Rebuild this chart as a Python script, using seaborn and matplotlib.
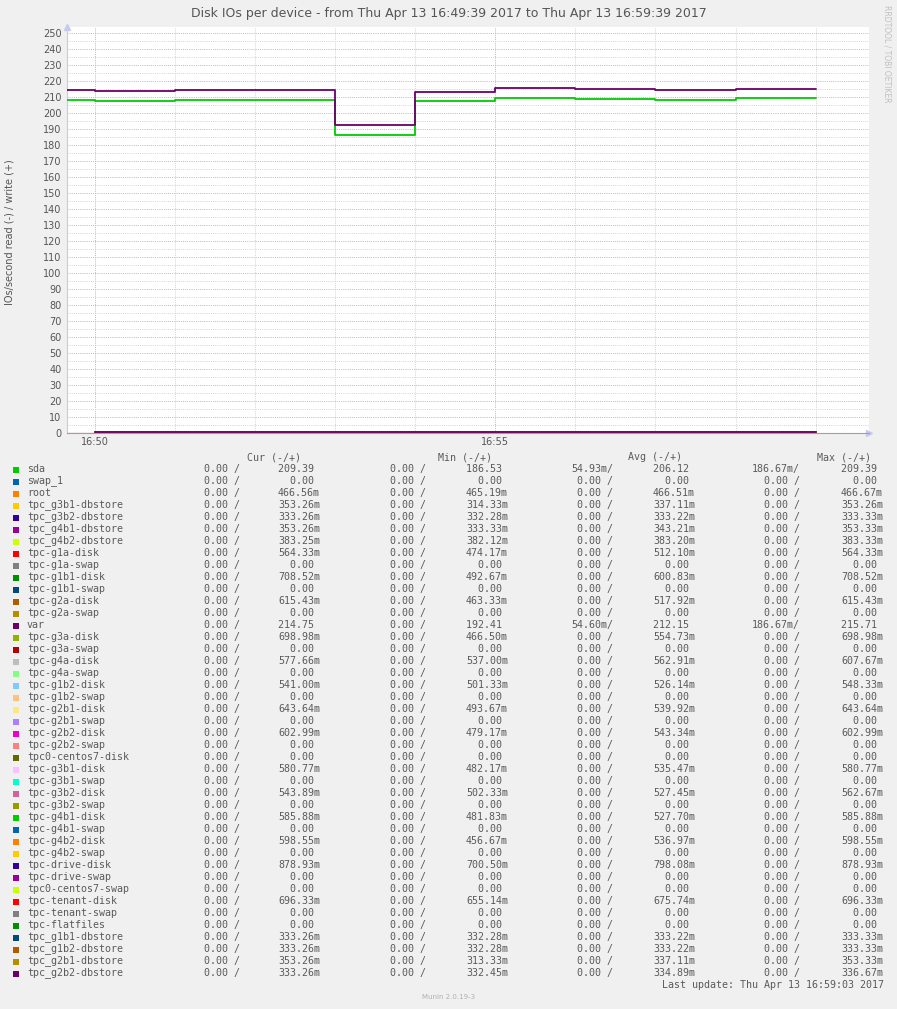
import numpy as np
import pandas as pd
import matplotlib
matplotlib.use("Agg")
import matplotlib.pyplot as plt
import matplotlib.dates as mdates
from matplotlib.patches import Rectangle
from matplotlib.ticker import MultipleLocator
import seaborn as sns

W, H = 897, 1009

title = "Disk IOs per device - from Thu Apr 13 16:49:39 2017 to Thu Apr 13 16:59:39 2017"
ylabel = "IOs/second read (-) / write (+)"

# sample start times (each value holds until the next time)
sample_times = ["16:49:39", "16:50:00", "16:51:00", "16:52:00", "16:53:00",
                "16:54:00", "16:55:00", "16:56:00", "16:57:00", "16:58:00", "16:59:00"]
sda_write = [208.0, 207.4, 208.0, 208.0, 186.53, 207.4, 209.1, 208.6, 207.9, 209.39]
var_write = [214.2, 213.5, 214.2, 214.2, 192.41, 212.9, 215.71, 214.8, 214.2, 214.75]

devices = ["sda", "swap_1", "root", "tpc_g3b1-dbstore", "tpc_g3b2-dbstore",
           "tpc_g4b1-dbstore", "tpc_g4b2-dbstore", "tpc-g1a-disk", "tpc-g1a-swap",
           "tpc-g1b1-disk", "tpc-g1b1-swap", "tpc-g2a-disk", "tpc-g2a-swap", "var",
           "tpc-g3a-disk", "tpc-g3a-swap", "tpc-g4a-disk", "tpc-g4a-swap",
           "tpc-g1b2-disk", "tpc-g1b2-swap", "tpc-g2b1-disk", "tpc-g2b1-swap",
           "tpc-g2b2-disk", "tpc-g2b2-swap", "tpc0-centos7-disk", "tpc-g3b1-disk",
           "tpc-g3b1-swap", "tpc-g3b2-disk", "tpc-g3b2-swap", "tpc-g4b1-disk",
           "tpc-g4b1-swap", "tpc-g4b2-disk", "tpc-g4b2-swap", "tpc-drive-disk",
           "tpc-drive-swap", "tpc0-centos7-swap", "tpc-tenant-disk", "tpc-tenant-swap",
           "tpc-flatfiles", "tpc_g1b1-dbstore", "tpc_g1b2-dbstore", "tpc_g2b1-dbstore",
           "tpc_g2b2-dbstore"]

colors = ["#00CC00", "#0066B3", "#FF8000", "#FFCC00", "#330099", "#990099", "#CCFF00",
          "#FF0000", "#808080", "#008F00", "#00487D", "#B35A00", "#B38F00", "#6B006B",
          "#8FB300", "#B30000", "#BEBEBE", "#80FF80", "#80C9FF", "#FFC080", "#FFE680",
          "#AA80FF", "#EE00CC", "#FF8080", "#666600", "#FFBFFF", "#00FFCC", "#CC6699",
          "#999900", "#00CC00", "#0066B3", "#FF8000", "#FFCC00", "#330099", "#990099",
          "#CCFF00", "#FF0000", "#808080", "#008F00", "#00487D", "#B35A00", "#B38F00",
          "#6B006B"]

write_cur = ["209.39", "0.00", "466.56m", "353.26m", "333.26m", "353.26m", "383.25m",
             "564.33m", "0.00", "708.52m", "0.00", "615.43m", "0.00", "214.75",
             "698.98m", "0.00", "577.66m", "0.00", "541.00m", "0.00", "643.64m", "0.00",
             "602.99m", "0.00", "0.00", "580.77m", "0.00", "543.89m", "0.00", "585.88m",
             "0.00", "598.55m", "0.00", "878.93m", "0.00", "0.00", "696.33m", "0.00",
             "0.00", "333.26m", "333.26m", "353.26m", "333.26m"]
write_min = ["186.53", "0.00", "465.19m", "314.33m", "332.28m", "333.33m", "382.12m",
             "474.17m", "0.00", "492.67m", "0.00", "463.33m", "0.00", "192.41",
             "466.50m", "0.00", "537.00m", "0.00", "501.33m", "0.00", "493.67m", "0.00",
             "479.17m", "0.00", "0.00", "482.17m", "0.00", "502.33m", "0.00", "481.83m",
             "0.00", "456.67m", "0.00", "700.50m", "0.00", "0.00", "655.14m", "0.00",
             "0.00", "332.28m", "332.28m", "313.33m", "332.45m"]
write_avg = ["206.12", "0.00", "466.51m", "337.11m", "333.22m", "343.21m", "383.20m",
             "512.10m", "0.00", "600.83m", "0.00", "517.92m", "0.00", "212.15",
             "554.73m", "0.00", "562.91m", "0.00", "526.14m", "0.00", "539.92m", "0.00",
             "543.34m", "0.00", "0.00", "535.47m", "0.00", "527.45m", "0.00", "527.70m",
             "0.00", "536.97m", "0.00", "798.08m", "0.00", "0.00", "675.74m", "0.00",
             "0.00", "333.22m", "333.22m", "337.11m", "334.89m"]
write_max = ["209.39", "0.00", "466.67m", "353.26m", "333.33m", "353.33m", "383.33m",
             "564.33m", "0.00", "708.52m", "0.00", "615.43m", "0.00", "215.71",
             "698.98m", "0.00", "607.67m", "0.00", "548.33m", "0.00", "643.64m", "0.00",
             "602.99m", "0.00", "0.00", "580.77m", "0.00", "562.67m", "0.00", "585.88m",
             "0.00", "598.55m", "0.00", "878.93m", "0.00", "0.00", "696.33m", "0.00",
             "0.00", "333.33m", "333.33m", "353.33m", "336.67m"]
# read side is 0.00 everywhere except these
read_avg_nonzero = {"sda": "54.93m", "var": "54.60m"}
read_max_nonzero = {"sda": "186.67m", "var": "186.67m"}

big_series = {"sda": sda_write, "var": var_write}


def to_num(s):
    return float(s[:-1]) / 1000 if s.endswith("m") else float(s)


def fmt(s):
    return s if s.endswith("m") else s + " "


def fx(px):
    return px / W


def fy(py):
    return 1 - py / H


day = "2017-04-13 "
times = pd.to_datetime([day + t for t in sample_times])

sns.set_style("white")
plt.rcParams["font.family"] = ["DejaVu Sans"]
fig = plt.figure(figsize=(W / 100, H / 100), dpi=100, facecolor="#F0F0F0")
ax = fig.add_axes([fx(67), fy(433), fx(869) - fx(67), fy(27) - fy(433)])
ax.set_facecolor("white")

# small-valued devices hug the zero line (drawn first), big ones on top
for i, name in enumerate(devices):
    val = to_num(write_avg[i])
    if name in big_series or val == 0:
        continue
    df = pd.DataFrame({"t": times[1:], "v": [val] * (len(times) - 1)})
    sns.lineplot(data=df, x="t", y="v", ax=ax, color=colors[i], lw=1.3,
                 drawstyle="steps-post", zorder=3)

for i, name in enumerate(devices):
    if name not in big_series:
        continue
    vals = big_series[name]
    df = pd.DataFrame({"t": times, "v": vals + [vals[-1]]})
    sns.lineplot(data=df, x="t", y="v", ax=ax, color=colors[i], lw=1.3,
                 drawstyle="steps-post", zorder=4)

# thin zero line before the first full sample
ax.plot([times[0], times[1]], [0.2, 0.2], color="#6B006B", lw=0.8, zorder=3)

ax.set_xlim(pd.Timestamp(day + "16:49:39"), pd.Timestamp(day + "16:59:40"))
ax.set_ylim(0, 253.75)
ax.yaxis.set_major_locator(MultipleLocator(10))
ax.yaxis.set_minor_locator(MultipleLocator(5))
ax.xaxis.set_major_locator(mdates.MinuteLocator(byminute=[50, 55]))
ax.xaxis.set_minor_locator(mdates.MinuteLocator())
ax.xaxis.set_major_formatter(mdates.DateFormatter("%H:%M"))
ax.grid(which="minor", color="#D4D4D4", linestyle=(0, (1, 1.2)), linewidth=0.7)
ax.grid(which="major", color="#E6A8A8", linestyle=(0, (1, 1.2)), linewidth=0.7)
ax.set_axisbelow(True)
ax.tick_params(which="both", length=0, labelsize=7, labelcolor="#555555", pad=4)
ax.tick_params(axis="x", pad=3)
ax.set_xlabel("")
ax.set_ylabel("")
for side in ["top", "right"]:
    ax.spines[side].set_visible(False)
ax.spines["left"].set_color("#C8C8F0")
ax.spines["bottom"].set_color("#A0A0A0")
ax.spines["left"].set_linewidth(0.8)
ax.spines["bottom"].set_linewidth(0.8)
ax.plot([0], [1], marker="^", ms=4, color="#C8C8F0", transform=ax.transAxes, clip_on=False)
ax.plot([1], [0], marker=">", ms=4, color="#C8C8F0", transform=ax.transAxes, clip_on=False)

fig.text(0.5, fy(14), title, ha="center", va="center", fontsize=9, color="#555555")
fig.text(fx(10), fy(232), ylabel, rotation=90, ha="center", va="center",
         fontsize=7, color="#555555")
fig.text(fx(887), fy(5), "RRDTOOL / TOBI OETIKER", rotation=270, ha="center", va="top",
         fontsize=5.5, color="#C0C0C0")

# legend table
mono = "DejaVu Sans Mono"
tc = "#5A5A5A"
fs = 7.2
for label, xr in zip(["Cur (-/+)", "Min (-/+)", "Avg (-/+)", "Max (-/+)"],
                     [301, 492, 682, 871]):
    fig.text(fx(xr), fy(457), label, ha="right", va="center", family=mono,
             fontsize=fs, color=tc)

read_ends = [240, 426, 613, 800]
write_ends = [320, 508, 695, 883]
for i, name in enumerate(devices):
    yc = 469 + 12 * i
    fig.add_artist(Rectangle((fx(13), fy(yc + 3.5)), 6 / W, 6 / H,
                             transform=fig.transFigure, color=colors[i], lw=0))
    fig.text(fx(27), fy(yc), name, ha="left", va="center", family=mono,
             fontsize=fs, color=tc)
    reads = ["0.00", "0.00", read_avg_nonzero.get(name, "0.00"),
             read_max_nonzero.get(name, "0.00")]
    writes = [write_cur[i], write_min[i], write_avg[i], write_max[i]]
    for r, w, xr, xw in zip(reads, writes, read_ends, write_ends):
        fig.text(fx(xr), fy(yc), fmt(r) + "/", ha="right", va="center",
                 family=mono, fontsize=fs, color=tc)
        fig.text(fx(xw), fy(yc), fmt(w), ha="right", va="center",
                 family=mono, fontsize=fs, color=tc)

fig.text(fx(884), fy(985), "Last update: Thu Apr 13 16:59:03 2017", ha="right",
         va="center", family=mono, fontsize=fs, color=tc)
fig.text(0.5, fy(997), "Munin 2.0.19-3", ha="center", va="center",
         fontsize=5, color="#B0B0B0")

fig.savefig("out.png", dpi=100, facecolor=fig.get_facecolor())
